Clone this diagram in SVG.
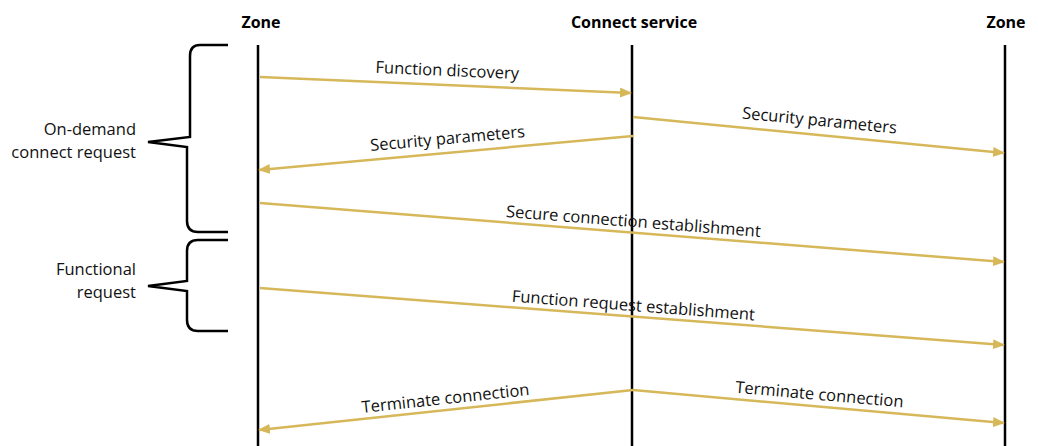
<svg xmlns="http://www.w3.org/2000/svg" width="1038" height="446" viewBox="0 0 1038 446">
<style>
.life{stroke:#000;stroke-width:2.5;fill:none}
.brace{stroke:#000;stroke-width:2.5;fill:none;stroke-linejoin:miter}
.msg{stroke:#d6b85a;stroke-width:2.5;fill:none}
.hdr{font-family:"Open Sans","Noto Sans",sans-serif;font-weight:bold;font-size:16px;fill:#000;text-anchor:middle}
.lbl{font-family:"Open Sans","Noto Sans",sans-serif;font-size:16.5px;fill:#111;text-anchor:middle}
.side{font-family:"Open Sans","Noto Sans",sans-serif;font-size:16.5px;fill:#111;text-anchor:end}
</style>
<defs>
<marker id="ah" viewBox="0 0 12 10" refX="11" refY="5" markerWidth="12" markerHeight="10" markerUnits="userSpaceOnUse" orient="auto">
<path d="M0,0 L12,5 L0,10 Z" fill="#d6b85a"/>
</marker>
</defs>
<rect width="1038" height="446" fill="#fff"/>
<g id="zone-left">
<text class="hdr" x="261" y="28">Zone</text>
<line class="life" x1="258" y1="45" x2="258" y2="446"/>
</g>
<g id="connect-service">
<text class="hdr" x="634" y="28">Connect service</text>
<line class="life" x1="632" y1="45" x2="632" y2="446"/>
</g>
<g id="zone-right">
<text class="hdr" x="1006" y="28">Zone</text>
<line class="life" x1="1005" y1="45" x2="1005" y2="446"/>
</g>
<g id="brace-ondemand">
<path class="brace" d="M228,45 L200,45 Q190,45 190,56 L190,137 L148,142 L187,147 L187,221 Q187,232 198,232 L228,232"/>
<text class="side" x="136" y="135">On-demand</text>
<text class="side" x="136" y="158">connect request</text>
</g>
<g id="brace-functional">
<path class="brace" d="M228,240 L198,240 Q187,240 187,251 L187,281 L148,286 L187,291 L187,320 Q187,331 198,331 L228,331"/>
<text class="side" x="136" y="275">Functional</text>
<text class="side" x="136" y="298">request</text>
</g>
<g id="connectors">
<line class="msg" x1="260" y1="77" x2="631" y2="93" marker-end="url(#ah)"/>
<text class="lbl" transform="translate(447,76) rotate(2.5)">Function discovery</text>
<line class="msg" x1="633" y1="117" x2="1004" y2="153" marker-end="url(#ah)"/>
<text class="lbl" transform="translate(819,126) rotate(5.5)">Security parameters</text>
<line class="msg" x1="633" y1="136" x2="259" y2="170" marker-end="url(#ah)"/>
<text class="lbl" transform="translate(448,144) rotate(-5.2)">Security parameters</text>
<line class="msg" x1="260" y1="203" x2="1004" y2="262" marker-end="url(#ah)"/>
<text class="lbl" transform="translate(633,227) rotate(4.5)">Secure connection establishment</text>
<line class="msg" x1="260" y1="288" x2="1004" y2="345" marker-end="url(#ah)"/>
<text class="lbl" transform="translate(633,311) rotate(4.4)">Function request establishment</text>
<line class="msg" x1="633" y1="390" x2="259" y2="430" marker-end="url(#ah)"/>
<text class="lbl" transform="translate(446,404) rotate(-6.1)">Terminate connection</text>
<line class="msg" x1="633" y1="390" x2="1004" y2="423" marker-end="url(#ah)"/>
<text class="lbl" transform="translate(819,400) rotate(5)">Terminate connection</text>
</g>
</svg>
